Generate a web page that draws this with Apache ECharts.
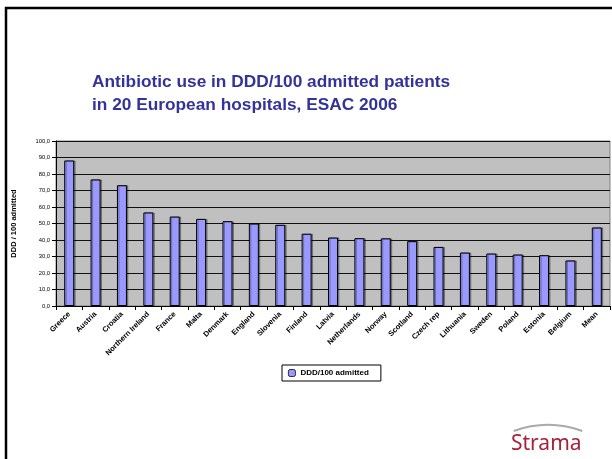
<!DOCTYPE html>
<html>
<head>
<meta charset="utf-8">
<script src="https://cdn.jsdelivr.net/npm/echarts@6/dist/echarts.min.js"></script>
<style>
  html, body { margin: 0; padding: 0; background: #fff; }
  #main { width: 612px; height: 459px; }
</style>
</head>
<body>
<div id="main"></div>
<script>
// hospitals (countries) on the x axis
const countries = ['Greece', 'Austria', 'Croatia', 'Northern Ireland', 'France', 'Malta',
  'Denmark', 'England', 'Slovenia', 'Finland', 'Latvia', 'Netherlands', 'Norway',
  'Scotland', 'Czech rep', 'Lithuania', 'Sweden', 'Poland', 'Estonia', 'Belgium', 'Mean']
// DDD/100 admitted patients
const dddValues = [88.2, 76.7, 73.2, 56.7, 54.2, 52.8, 51.4, 50.0, 49.2, 43.8, 41.5,
  41.1, 41.0, 39.3, 35.8, 32.4, 31.8, 31.2, 30.8, 27.6, 47.6]
const yTicks = [0, 100, 10] // min, max, interval

const chart = echarts.init(document.getElementById('main'))

const option = {
  animation: false,
  backgroundColor: '#fff',
  title: {
    text: 'Antibiotic use in DDD/100 admitted patients\nin 20 European hospitals, ESAC 2006',
    left: 87,
    top: 66,
    textStyle: {
      fontFamily: 'Liberation Sans, Arial, sans-serif',
      fontSize: 17.3,
      fontWeight: 'bold',
      color: '#333399',
      lineHeight: 23
    }
  },
  legend: {
    data: ['DDD/100 admitted'],
    left: 282,
    top: 365,
    itemWidth: 7,
    itemHeight: 7,
    itemGap: 4,
    padding: [4, 12, 4, 6],
    borderColor: '#000',
    borderWidth: 1,
    itemStyle: { shadowColor: 'transparent', borderWidth: 0.8 },
    textStyle: {
      fontFamily: 'Liberation Sans, Arial, sans-serif',
      fontSize: 8,
      fontWeight: 'bold',
      color: '#000'
    }
  },
  grid: {
    left: 56,
    right: 2,
    top: 141,
    bottom: 153,
    show: true,
    backgroundColor: '#c0c0c0',
    borderColor: '#808080',
    borderWidth: 1
  },
  xAxis: {
    type: 'category',
    data: countries,
    axisLine: { lineStyle: { color: '#000', width: 1 } },
    axisTick: { show: true, alignWithLabel: false, length: 4, lineStyle: { color: '#000' } },
    axisLabel: {
      interval: 0,
      rotate: 45,
      margin: 7,
      fontFamily: 'Liberation Sans, Arial, sans-serif',
      fontSize: 7.5,
      fontWeight: 'bold',
      color: '#000'
    }
  },
  yAxis: {
    type: 'value',
    min: yTicks[0],
    max: yTicks[1],
    interval: yTicks[2],
    name: 'DDD / 100 admitted',
    nameLocation: 'middle',
    nameGap: 38,
    nameTextStyle: {
      fontFamily: 'Liberation Sans, Arial, sans-serif',
      fontSize: 7.5,
      fontWeight: 'bold',
      color: '#000'
    },
    axisLine: { show: true, lineStyle: { color: '#000', width: 1 } },
    axisTick: { show: true, length: 4, lineStyle: { color: '#000' } },
    axisLabel: {
      margin: 6,
      fontFamily: 'Liberation Sans, Arial, sans-serif',
      fontSize: 5.8,
      color: '#000',
      formatter: v => v.toFixed(1).replace('.', ',')
    },
    splitLine: { show: true, lineStyle: { color: '#111', width: 1 } }
  },
  series: [
    {
      type: 'bar',
      name: 'DDD/100 admitted',
      data: dddValues,
      barWidth: 10,
      itemStyle: {
        color: '#9999ff',
        borderColor: '#000',
        borderWidth: 1,
        shadowColor: 'rgba(0,0,0,0.3)',
        shadowOffsetX: 1.5,
        shadowOffsetY: 0
      }
    }
  ],
  graphic: [
    // slide frame
    {
      type: 'rect',
      shape: { x: 6, y: 8, width: 620, height: 470 },
      style: { fill: null, stroke: '#000', lineWidth: 2.5 },
      z: 100
    },
    // Strama logo arc
    {
      type: 'arc',
      shape: { cx: 548, cy: 525, r: 100, startAngle: -Math.PI / 2 - 0.35, endAngle: -Math.PI / 2 + 0.35 },
      style: { fill: null, stroke: '#aaa', lineWidth: 2 },
      z: 100
    },
    {
      type: 'text',
      left: 511,
      top: 434,
      style: {
        text: 'Strama',
        fontFamily: 'Noto Sans, Open Sans, sans-serif',
        fontSize: 21,
        fill: '#a8213a'
      },
      z: 100
    }
  ]
}

chart.setOption(option)
</script>
</body>
</html>
